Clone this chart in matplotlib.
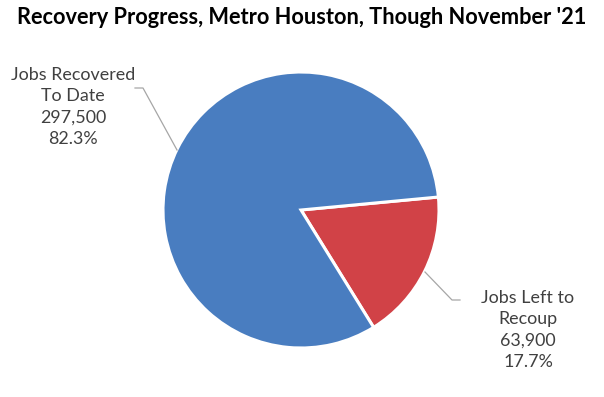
import matplotlib
matplotlib.use("Agg")
import matplotlib.pyplot as plt
import numpy as np

plt.rcParams['font.family'] = ['Lato', 'DejaVu Sans']

labels = ["Jobs Left to\nRecoup", "Jobs Recovered\nTo Date"]
jobs = [63900, 297500]
shares = [17.7, 82.3]
colors = ["#D14247", "#497DC0"]

W, H = 604, 397
fig = plt.figure(figsize=(W / 100, H / 100), dpi=100)

# pie centre (301,210) px, radius 138 px
cx, cy, r = 301, 210, 138
ax = fig.add_axes([(cx - r) / W, (H - cy - r) / H, 2 * r / W, 2 * r / H])
ax.pie(jobs, colors=colors, startangle=5.4, counterclock=False, radius=1,
       wedgeprops=dict(edgecolor="white", linewidth=2.2))
ax.set_xlim(-1, 1)
ax.set_ylim(-1, 1)
ax.set_aspect("equal")
ax.axis("off")


def px(x, y):
    return (x - cx) / r, (cy - y) / r


texts = [f"{l}\n{v:,}\n{s}%" for l, v, s in zip(labels, jobs, shares)]
label_pos = [(528, 330), (73, 107)]
leaders = [[(460, 300), (452, 300), (425, 272)],
           [(135, 88), (143, 88), (177, 150)]]

for t, (lx, ly), pts in zip(texts, label_pos, leaders):
    tx, ty = px(lx, ly)
    ax.text(tx, ty, t, ha="center", va="center", fontsize=12.9,
            color="#404040", linespacing=1.4, clip_on=False)
    xs, ys = zip(*[px(a, b) for a, b in pts])
    ax.plot(xs, ys, color="#A6A6A6", lw=0.9, clip_on=False)

fig.text(0.5, 1 - 17 / H, "Recovery Progress, Metro Houston, Though November '21",
         ha="center", va="center", fontsize=15.7, fontweight="bold", color="black")

fig.savefig("out.png", dpi=100, facecolor="white")
